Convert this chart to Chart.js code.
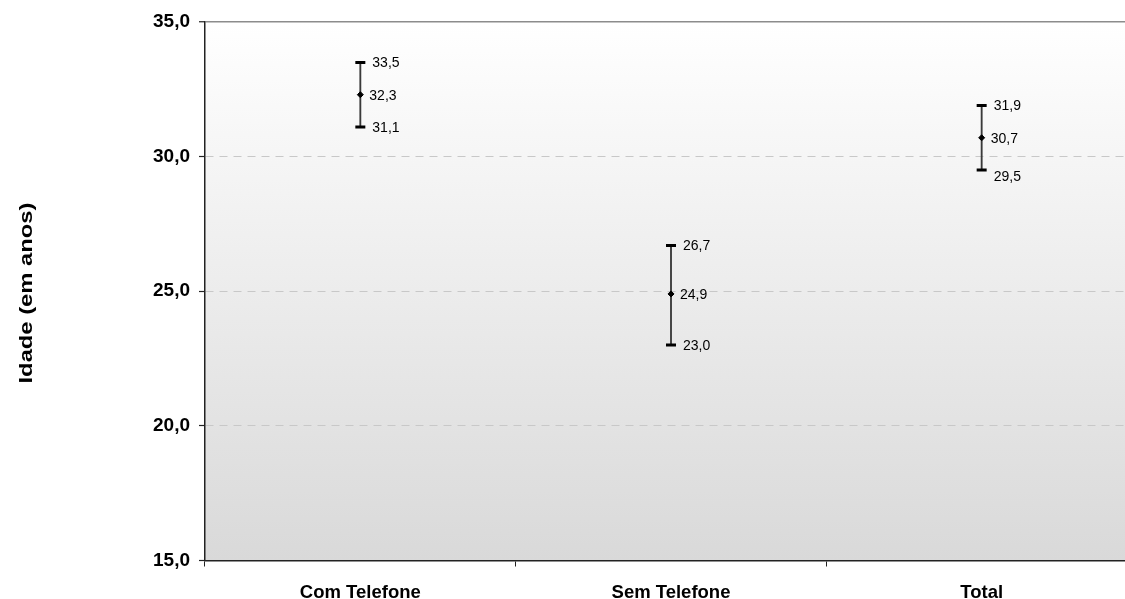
<!DOCTYPE html>
<html>
<head>
<meta charset="utf-8">
<script src="https://cdn.jsdelivr.net/npm/chart.js@4/dist/chart.umd.min.js"></script>
<style>
  html, body { margin: 0; padding: 0; background: #ffffff; overflow: hidden; }
  #wrap { width: 1145px; height: 599px; position: relative; }
</style>
</head>
<body>
<div id="wrap"><canvas id="c" width="1145" height="599"></canvas></div>
<script>
const categories = ['Com Telefone', 'Sem Telefone', 'Total'];
const means = [32.3, 24.9, 30.7];
const upper = [33.5, 26.7, 31.9];
const lower = [31.1, 23.0, 29.5];
const yTicks = [15, 20, 25, 30, 35];
const axisTitle = 'Idade (em anos)';

const fmt = v => v.toFixed(1).replace('.', ',');

const bgPlugin = {
  id: 'bgGrad',
  beforeDraw(chart) {
    const { ctx, chartArea: a } = chart;
    const g = ctx.createLinearGradient(0, a.top, 0, a.bottom);
    g.addColorStop(0, '#ffffff');
    g.addColorStop(1, '#d9d9d9');
    ctx.save();
    ctx.fillStyle = g;
    ctx.fillRect(a.left, a.top, a.right - a.left, a.bottom - a.top);
    ctx.restore();
  }
};

const titlePlugin = {
  id: 'yTitle',
  afterDraw(chart) {
    const { ctx } = chart;
    ctx.save();
    ctx.font = 'bold 18px "Liberation Sans", Arial, sans-serif';
    const w = ctx.measureText(axisTitle).width;
    ctx.translate(27, 293);
    ctx.rotate(-Math.PI / 2);
    ctx.scale(181 / w, 1);
    ctx.fillStyle = '#000000';
    ctx.textAlign = 'center';
    ctx.textBaseline = 'middle';
    ctx.fillText(axisTitle, 0, 0);
    ctx.restore();
  }
};

const labelPlugin = {
  id: 'valLabels',
  afterDatasetsDraw(chart) {
    const { ctx } = chart;
    ctx.save();
    ctx.font = '14px "Liberation Sans", Arial, sans-serif';
    ctx.fillStyle = '#000000';
    ctx.textAlign = 'left';
    ctx.textBaseline = 'middle';
    const sets = [
      { idx: 1, vals: upper, dx: 12, dy: [1, 1, 1] },
      { idx: 3, vals: means, dx: 9, dy: [1, 1, 1] },
      { idx: 2, vals: lower, dx: 12, dy: [1, 1, 7] }
    ];
    sets.forEach(s => {
      const meta = chart.getDatasetMeta(s.idx);
      meta.data.forEach((pt, j) => {
        ctx.fillText(fmt(s.vals[j]), pt.x + s.dx, pt.y + s.dy[j]);
      });
    });
    ctx.restore();
  }
};

new Chart(document.getElementById('c'), {
  type: 'bar',
  data: {
    labels: categories,
    datasets: [
      {
        type: 'bar',
        data: lower.map((l, i) => [l, upper[i]]),
        backgroundColor: '#3a3a3a',
        borderWidth: 0,
        barThickness: 1.2,
        order: 3
      },
      {
        type: 'line',
        data: upper,
        showLine: false,
        pointStyle: 'line',
        pointRadius: 5,
        pointBorderWidth: 3,
        pointBorderColor: '#000000',
        pointBackgroundColor: '#000000',
        order: 2
      },
      {
        type: 'line',
        data: lower,
        showLine: false,
        pointStyle: 'line',
        pointRadius: 5,
        pointBorderWidth: 3,
        pointBorderColor: '#000000',
        pointBackgroundColor: '#000000',
        order: 2
      },
      {
        type: 'line',
        data: means,
        showLine: false,
        pointStyle: 'rectRot',
        pointRadius: 3,
        pointBorderWidth: 1,
        pointBorderColor: '#000000',
        pointBackgroundColor: '#000000',
        order: 1
      }
    ]
  },
  options: {
    responsive: false,
    animation: false,
    layout: { padding: { top: 22, right: 3, left: 0, bottom: 0 } },
    plugins: {
      legend: { display: false },
      tooltip: { enabled: false }
    },
    scales: {
      x: {
        type: 'category',
        offset: true,
        afterFit(scale) { scale.height = 38.5; },
        grid: {
          offset: true,
          drawOnChartArea: false,
          drawTicks: true,
          tickLength: 6,
          tickColor: '#222222',
          tickWidth: 1
        },
        border: { display: true, color: '#222222', width: 1.5 },
        ticks: {
          padding: 15,
          color: '#000000',
          font: { family: '"Liberation Sans", Arial, sans-serif', size: 18.5, weight: 'bold' }
        }
      },
      y: {
        min: 15,
        max: 35,
        afterFit(scale) { scale.width = 205; },
        afterBuildTicks(scale) { scale.ticks = yTicks.map(v => ({ value: v })); },
        grid: {
          drawTicks: true,
          tickLength: 6,
          tickColor: '#222222',
          tickWidth: 1.2,
          color: ctx => {
            const v = ctx.tick ? ctx.tick.value : null;
            if (v === 35) return '#8c8c8c';
            if (v === 15) return 'rgba(0,0,0,0)';
            return '#c8c8c8';
          },
          lineWidth: ctx => (ctx.tick && ctx.tick.value === 35) ? 1.5 : 1
        },
        border: {
          display: true,
          color: '#222222',
          width: 1.5,
          dash: ctx => (ctx.tick && ctx.tick.value === 35) ? [] : [8, 6]
        },
        ticks: {
          padding: 9,
          color: '#000000',
          callback: v => fmt(v),
          font: { family: '"Liberation Sans", Arial, sans-serif', size: 19, weight: 'bold' }
        }
      }
    }
  },
  plugins: [bgPlugin, titlePlugin, labelPlugin]
});
</script>
</body>
</html>
